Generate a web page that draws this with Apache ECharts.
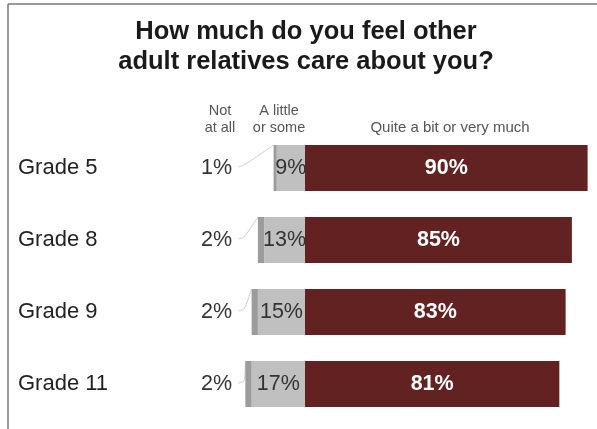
<!DOCTYPE html>
<html><head><meta charset="utf-8">
<script src="https://cdn.jsdelivr.net/npm/echarts@6/dist/echarts.min.js"></script>
<style>html,body{margin:0;padding:0;background:#fff}#c{width:597px;height:429px}</style>
</head><body><div id="c"></div>
<script>
const categories = ['Grade 5', 'Grade 8', 'Grade 9', 'Grade 11'];
const notAtAll = [1, 2, 2, 2];
const aLittle = [9, 13, 15, 17];
const quiteABit = [90, 85, 83, 81];
const titleText = 'How much do you feel other\nadult relatives care about you?';
const headers = ['Not\nat all', 'A little\nor some', 'Quite a bit or very much'];

const FONT = 'Liberation Sans, Arial, Helvetica, sans-serif';
const BAR_W = 46;
const LABEL_RIGHT = 232;
const chart = echarts.init(document.getElementById('c'), null, {renderer: 'canvas'});
chart.setOption({
  animation: false,
  backgroundColor: '#fff',
  textStyle: {fontFamily: FONT},
  grid: {left: 148, right: 9.4, top: 132, bottom: 9, containLabel: false},
  xAxis: {type: 'value', min: -50, max: 90, show: false},
  yAxis: {
    type: 'category', data: categories, inverse: true,
    axisLine: {show: false}, axisTick: {show: false}, splitLine: {show: false},
    axisLabel: {align: 'left', margin: 130, fontSize: 22, color: '#222', fontFamily: FONT}
  },
  graphic: [
    {type: 'line', shape: {x1: 8, y1: 4, x2: 597, y2: 4}, style: {stroke: '#777', lineWidth: 1.5}},
    {type: 'line', shape: {x1: 8, y1: 4, x2: 8, y2: 429}, style: {stroke: '#777', lineWidth: 1.5}},
    {type: 'text', x: 306, y: 17, style: {text: titleText, textAlign: 'center', textVerticalAlign: 'top',
      font: 'bold 25.5px ' + FONT, lineHeight: 30, fill: '#1a1a1a'}},
    {type: 'text', x: 220, y: 102, style: {text: headers[0], textAlign: 'center', textVerticalAlign: 'top',
      font: '14.5px ' + FONT, lineHeight: 17, fill: '#555'}},
    {type: 'text', x: 279, y: 102, style: {text: headers[1], textAlign: 'center', textVerticalAlign: 'top',
      font: '14.5px ' + FONT, lineHeight: 17, fill: '#555'}},
    {type: 'text', x: 450, y: 119, style: {text: headers[2], textAlign: 'center', textVerticalAlign: 'top',
      font: '15px ' + FONT, lineHeight: 17, fill: '#555'}}
  ],
  series: [
    {
      name: 'A little or some', type: 'bar', stack: 'all', barWidth: BAR_W,
      data: aLittle.map(v => -v),
      itemStyle: {color: '#c0c0c0'},
      label: {show: true, position: 'inside', formatter: p => Math.abs(p.value) + '%',
        fontSize: 21.5, color: '#333', fontFamily: FONT}
    },
    {
      name: 'Not at all', type: 'bar', stack: 'all', barWidth: BAR_W,
      data: notAtAll.map(v => -v),
      itemStyle: {color: '#9c9c9c'},
      label: {show: true, position: 'left', formatter: p => Math.abs(p.value) + '%',
        fontSize: 21.5, color: '#333', fontFamily: FONT},
      labelLayout: function (params) {
        const r = params.rect;
        return {x: LABEL_RIGHT, y: r.y + r.height / 2, align: 'right', verticalAlign: 'middle'};
      }
    },
    {
      name: 'Quite a bit or very much', type: 'bar', stack: 'all', barWidth: BAR_W,
      data: quiteABit,
      itemStyle: {color: '#622222'},
      label: {show: true, position: 'inside', formatter: p => p.value + '%',
        fontSize: 21.5, fontWeight: 'bold', color: '#fff', fontFamily: FONT}
    },
    {
      name: 'leader', type: 'custom', z: 1, silent: true,
      data: categories.map((c, i) => [-(aLittle[i] + notAtAll[i]), i]),
      encode: {x: 0, y: 1},
      renderItem: function (params, api) {
        const p = api.coord([api.value(0), api.value(1)]);
        const cy = p[1];
        return {
          type: 'polyline',
          shape: {points: [[LABEL_RIGHT + 6, cy - 1], [LABEL_RIGHT + 12, cy - 3], [p[0], cy - BAR_W / 2]], smooth: 0.25},
          style: {stroke: '#cfcfcf', lineWidth: 1, fill: null}
        };
      }
    }
  ]
});
</script></body></html>
